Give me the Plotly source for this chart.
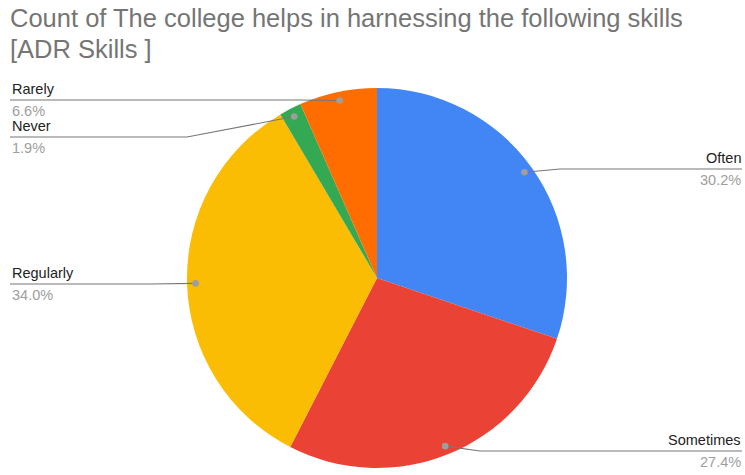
import math
import plotly.graph_objects as go

# Survey response counts for the ADR skills question
categories = ["Often", "Sometimes", "Regularly", "Never", "Rarely"]
counts = [32, 29, 36, 2, 7]
colors = ["#4285F4", "#EA4335", "#FBBC04", "#34A853", "#FF6D01"]

title_lines = ["Count of The college helps in harnessing the following skills", "[ADR Skills ]"]

W, H = 745, 475
CX, CY, R = 377, 278, 190  # pie centre and radius in pixels
FONT = "Arial, 'Liberation Sans', sans-serif"

total = sum(counts)
shares = [c / total for c in counts]
pct_text = [f"{s * 100:.1f}%" for s in shares]

fig = go.Figure()

fig.add_trace(go.Pie(
    labels=categories,
    values=counts,
    marker=dict(colors=colors, line=dict(width=0)),
    sort=False,
    direction="clockwise",
    rotation=0,
    textinfo="none",
    hoverinfo="label+value+percent",
    showlegend=False,
    domain=dict(x=[(CX - R) / W, (CX + R) / W], y=[(H - CY - R) / H, (H - CY + R) / H]),
))

# Leader-line anchor dots sit on each slice's mid-angle, near the rim
dots = []
acc = 0.0
for s in shares:
    mid = (acc + s / 2) * 2 * math.pi
    acc += s
    rr = 0.955 * R
    dots.append((CX + rr * math.sin(mid), CY - rr * math.cos(mid)))

# label placement: (side, line y, elbow x)
placement = {
    "Often": ("right", 169, 560),
    "Sometimes": ("right", 451, 480),
    "Regularly": ("left", 284, 150),
    "Never": ("left", 137, 187),
    "Rarely": ("left", 100, 300),
}

line_col = "#777777"
for i, name in enumerate(categories):
    side, ly, ex = placement[name]
    dx, dy = dots[i]
    x_edge = 742 if side == "right" else 10
    fig.add_shape(type="path", xref="x", yref="y", layer="above",
                  path=f"M {x_edge},{ly} L {ex},{ly} L {dx:.2f},{dy:.2f}",
                  line=dict(color=line_col, width=1.1))
    fig.add_shape(type="circle", xref="x", yref="y", layer="above",
                  x0=dx - 3.3, x1=dx + 3.3, y0=dy - 3.3, y1=dy + 3.3,
                  fillcolor="#9e9e9e", line=dict(width=0))
    anchor = "right" if side == "right" else "left"
    tx = 743 if side == "right" else 10
    fig.add_annotation(x=tx, y=ly - 11, xref="x", yref="y", text=name, showarrow=False,
                       xanchor=anchor, yanchor="middle",
                       font=dict(family=FONT, size=14.5, color="#222222"))
    fig.add_annotation(x=tx, y=ly + 11, xref="x", yref="y", text=pct_text[i], showarrow=False,
                       xanchor=anchor, yanchor="middle",
                       font=dict(family=FONT, size=14.5, color="#9e9e9e"))

# Two-line chart title
for j, t in enumerate(title_lines):
    fig.add_annotation(x=8, y=18 + j * 31, xref="x", yref="y", text=t, showarrow=False,
                       xanchor="left", yanchor="middle",
                       font=dict(family=FONT, size=25.5, color="#757575"))

fig.update_layout(
    width=W, height=H,
    margin=dict(l=0, r=0, t=0, b=0),
    paper_bgcolor="white", plot_bgcolor="rgba(0,0,0,0)",
    xaxis=dict(range=[0, W], visible=False, fixedrange=True),
    yaxis=dict(range=[H, 0], visible=False, fixedrange=True),
)

fig.write_html("out.html")
